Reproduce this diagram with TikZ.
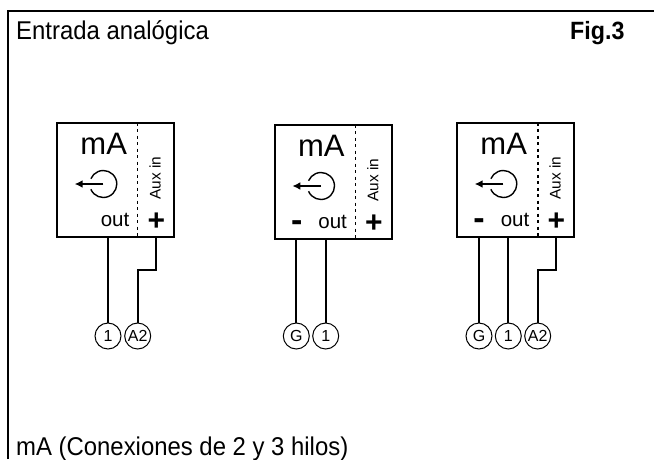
\documentclass[tikz,border=0pt]{standalone}
\usepackage{fontspec}
\setmainfont{Liberation Sans}
\newfontfamily\headfont[FakeStretch=0.93]{Liberation Sans}
\usetikzlibrary{arrows.meta}

\tikzset{
	unit/.style={draw,line width=2pt,minimum width=117pt,minimum height=114pt,inner sep=0pt,outer sep=0pt},
	pin/.style={draw,circle,line width=1pt,minimum size=26pt,inner sep=0pt,font=\fontsize{16}{16}\selectfont},
	wire/.style={line width=1.8pt},
	divider/.style={line width=1.4pt,dash pattern=on 3pt off 3.5pt},
	title/.style={anchor=base west,inner sep=0pt,font=\headfont\fontsize{25.7}{25.7}\selectfont},
	big/.style={anchor=base,inner sep=0pt,font=\fontsize{31}{31}\selectfont},
	outlabel/.style={anchor=base,inner sep=0pt,font=\fontsize{20.5}{20.5}\selectfont},
	sign/.style={anchor=base,inner sep=0pt,font=\fontsize{30}{30}\selectfont\bfseries},
	aux/.style={anchor=base,inner sep=0pt,rotate=90,font=\fontsize{15.4}{15.4}\selectfont},
	source/.style={line width=1.4pt},
	flow/.style={line width=1.6pt,-{Latex[length=8pt,width=8pt]}}
}

\begin{document}
\begin{tikzpicture}[x=1pt,y=-1pt]
	\useasboundingbox (0,0) rectangle (654,459);
	\draw[line width=1.5pt] (8,459) -- (8,11) -- (654,11);
	\node[title] (head) at (16,39.3) {Entrada analógica};
	\node[title,font=\headfont\fontsize{25}{25}\selectfont\bfseries] (fig) at (570,39.3) {Fig.3};
	\node[title] (foot) at (16,455) {mA (Conexiones de 2 y 3 hilos)};

	\node[unit] (box1) at (115.8,179.7) {};
	\node[unit] (box2) at (333.5,181.7) {};
	\node[unit] (box3) at (515.8,179.7) {};

	\coordinate (div1) at (137.7,0);
	\coordinate (div2) at (355.3,0);
	\coordinate (div3) at (538,0);
	\draw[divider] (box1.north -| div1) -- (box1.south -| div1);
	\draw[divider] (box2.north -| div2) -- (box2.south -| div2);
	\draw[divider] (box3.north -| div3) -- (box3.south -| div3);

	\node[big] (ma1) at (103.7,154.3) {mA};
	\node[big] (ma2) at (321.4,156.3) {mA};
	\node[big] (ma3) at (503.7,154.3) {mA};

	\coordinate (src1) at (103.3,184);
	\coordinate (src2) at (321,186);
	\coordinate (src3) at (503.3,184);
	\draw[source] (src1) ++(157:13.5) arc (157:-157:13.5);
	\draw[source] (src2) ++(157:13.5) arc (157:-157:13.5);
	\draw[source] (src3) ++(157:13.5) arc (157:-157:13.5);
	\draw[flow] (src1) -- ++(-28.6,0);
	\draw[flow] (src2) -- ++(-28.6,0);
	\draw[flow] (src3) -- ++(-28.6,0);

	\node[outlabel] (out1) at (115,226.7) {out};
	\node[outlabel] (out2) at (332.7,228.7) {out};
	\node[outlabel] (out3) at (515,226.7) {out};

	\node[sign] (plus1) at (156.3,230.5) {+};
	\node[sign] (plus2) at (374,232.5) {+};
	\node[sign] (plus3) at (556.3,230.5) {+};
	\node[sign,font=\fontsize{34}{34}\selectfont\bfseries] (minus2) at (296.7,231) {-};
	\node[sign,font=\fontsize{34}{34}\selectfont\bfseries] (minus3) at (479,229) {-};

	\node[aux] (aux1) at (160.7,178) {Aux in};
	\node[aux] (aux2) at (378.4,180) {Aux in};
	\node[aux] (aux3) at (560.7,178) {Aux in};

	\node[pin] (one1) at (108,336) {1};
	\node[pin] (two1) at (137.7,336) {A2};
	\node[pin] (gnd2) at (296.3,336) {G};
	\node[pin] (one2) at (325.7,336) {1};
	\node[pin] (gnd3) at (479,336) {G};
	\node[pin] (one3) at (508.3,336) {1};
	\node[pin] (two3) at (537.7,336) {A2};

	\coordinate (lug1) at (155.7,236.7);
	\coordinate (lug3) at (555.7,236.7);
	\draw[wire] (box1.south -| one1) -- (one1);
	\draw[wire] (lug1) -- ++(0,33.6) -| (two1);
	\draw[wire] (box2.south -| gnd2) -- (gnd2);
	\draw[wire] (box2.south -| one2) -- (one2);
	\draw[wire] (box3.south -| gnd3) -- (gnd3);
	\draw[wire] (box3.south -| one3) -- (one3);
	\draw[wire] (lug3) -- ++(0,33.6) -| (two3);
\end{tikzpicture}
\end{document}
